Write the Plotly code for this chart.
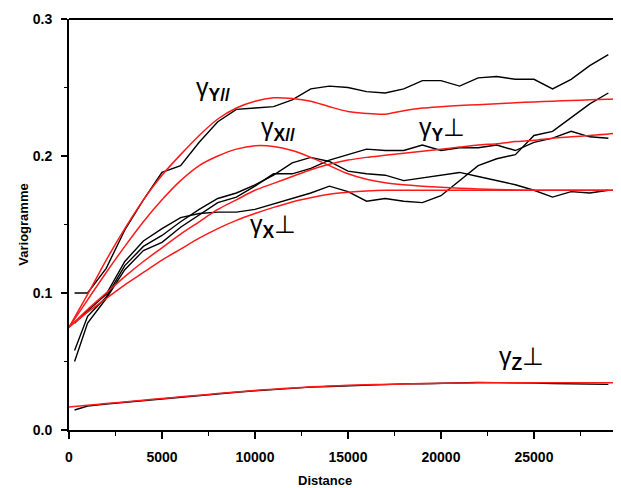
import plotly.graph_objects as go

# Experimental variogram lags (m)
lags = [300, 1000, 2000, 3000, 4000, 5000, 6000, 7000, 8000, 9000, 10000,
        11000, 12000, 13000, 14000, 15000, 16000, 17000, 18000, 19000, 20000,
        21000, 22000, 23000, 24000, 25000, 26000, 27000, 28000, 29000]

exp_y_par = [0.100, 0.100, 0.118, 0.146, 0.168, 0.188, 0.193, 0.210, 0.225, 0.234,
             0.235, 0.236, 0.241, 0.249, 0.251, 0.250, 0.247, 0.246, 0.249, 0.255,
             0.255, 0.251, 0.257, 0.258, 0.256, 0.256, 0.249, 0.256, 0.266, 0.274]
exp_x_par = [0.058, 0.083, 0.097, 0.120, 0.134, 0.142, 0.152, 0.161, 0.169, 0.173,
             0.179, 0.186, 0.195, 0.199, 0.196, 0.189, 0.187, 0.186, 0.182, 0.184,
             0.186, 0.188, 0.185, 0.182, 0.179, 0.175, 0.170, 0.174, 0.173, 0.175]
exp_y_perp = [0.050, 0.078, 0.096, 0.117, 0.131, 0.137, 0.148, 0.157, 0.166, 0.170,
              0.178, 0.187, 0.187, 0.191, 0.197, 0.201, 0.205, 0.204, 0.204, 0.208,
              0.204, 0.206, 0.206, 0.208, 0.204, 0.210, 0.213, 0.218, 0.214, 0.213]
exp_x_perp = [0.078, 0.087, 0.099, 0.123, 0.138, 0.147, 0.155, 0.158, 0.159, 0.159,
              0.161, 0.165, 0.169, 0.173, 0.178, 0.174, 0.167, 0.169, 0.167, 0.166,
              0.171, 0.182, 0.193, 0.198, 0.201, 0.215, 0.218, 0.228, 0.238, 0.246]
exp_z_perp = [0.0146, 0.0175, 0.0190, 0.0203, 0.0215, 0.0228, 0.0240, 0.0253, 0.0265, 0.0276,
              0.0287, 0.0297, 0.0305, 0.0313, 0.0318, 0.0324, 0.0330, 0.0334, 0.0337, 0.0338,
              0.0342, 0.0348, 0.0347, 0.0346, 0.0347, 0.0343, 0.0339, 0.0338, 0.0336, 0.0333]

# Fitted model curves
model_d = [0, 1000, 2000, 3000, 4000, 5000, 6000, 7000, 8000, 9000, 10000,
           11000, 12000, 13000, 14000, 15000, 16000, 17000, 18000, 19000, 20000,
           21000, 22000, 23000, 24000, 25000, 26000, 27000, 28000, 29000, 29700]

mod_y_par = [0.075, 0.099, 0.124, 0.147, 0.168, 0.186, 0.201, 0.215, 0.227, 0.235,
             0.240, 0.2425, 0.242, 0.240, 0.236, 0.2325, 0.231, 0.2305, 0.2330, 0.2350,
             0.2360, 0.2368, 0.2375, 0.2382, 0.2388, 0.2395, 0.2400, 0.2405, 0.2410, 0.2415, 0.2420]
mod_x_par = [0.075, 0.095, 0.115, 0.134, 0.152, 0.168, 0.182, 0.193, 0.200, 0.205,
             0.2075, 0.207, 0.204, 0.199, 0.193, 0.187, 0.183, 0.1805, 0.179, 0.178,
             0.1772, 0.1765, 0.176, 0.1755, 0.1752, 0.175, 0.175, 0.175, 0.175, 0.175, 0.175]
mod_y_perp = [0.075, 0.088, 0.100, 0.112, 0.123, 0.133, 0.143, 0.152, 0.161, 0.168,
              0.175, 0.180, 0.185, 0.190, 0.194, 0.197, 0.199, 0.2005, 0.202, 0.2035,
              0.205, 0.2065, 0.208, 0.209, 0.2105, 0.2115, 0.213, 0.214, 0.215, 0.216, 0.217]
mod_x_perp = [0.075, 0.086, 0.096, 0.106, 0.115, 0.124, 0.132, 0.140, 0.147, 0.153,
              0.158, 0.1625, 0.1665, 0.1695, 0.172, 0.1735, 0.1745, 0.175, 0.175, 0.175,
              0.175, 0.175, 0.175, 0.175, 0.175, 0.175, 0.175, 0.175, 0.175, 0.175, 0.175]
mod_z_perp = [0.0168, 0.0180, 0.0193, 0.0205, 0.0218, 0.0230, 0.0242, 0.0254, 0.0266, 0.0278,
              0.0288, 0.0298, 0.0307, 0.0315, 0.0321, 0.0326, 0.0330, 0.0333, 0.0336, 0.0339,
              0.0341, 0.0343, 0.0344, 0.0345, 0.0345, 0.0345, 0.0345, 0.0345, 0.0345, 0.0345, 0.0345]

x_ticks = [0, 5000, 10000, 15000, 20000, 25000]
y_ticks = [0.0, 0.1, 0.2, 0.3]

labels = ["γ<sub><b>Y//</b></sub>", "γ<sub><b>X//</b></sub>",
          "γ<sub><b>Y</b></sub>⊥", "γ<sub><b>X</b></sub>⊥", "γ<sub><b>Z</b></sub>⊥"]
label_x = [6700, 10200, 18700, 9600, 23000]
label_y = [0.249, 0.220, 0.220, 0.149, 0.0526]

FONT = "Liberation Sans, Arial, sans-serif"

fig = go.Figure()
for ys in [exp_y_par, exp_x_par, exp_y_perp, exp_x_perp, exp_z_perp]:
    fig.add_trace(go.Scatter(x=lags, y=ys, mode="lines",
                             line=dict(color="black", width=1.4),
                             showlegend=False, hoverinfo="skip"))
for ys in [mod_y_par, mod_x_par, mod_y_perp, mod_x_perp, mod_z_perp]:
    fig.add_trace(go.Scatter(x=model_d, y=ys, mode="lines",
                             line=dict(color="#ff1a1a", width=1.5, shape="spline", smoothing=0.8),
                             showlegend=False, hoverinfo="skip"))

for t, lx, ly in zip(labels, label_x, label_y):
    fig.add_annotation(x=lx, y=ly, xref="x", yref="y", text=t, showarrow=False,
                       xanchor="left", yanchor="middle",
                       font=dict(family=FONT, size=25, color="black"))

fig.add_annotation(x=-0.083, y=0.5, xref="paper", yref="paper", text="<b>Variogramme</b>",
                   textangle=-90, showarrow=False, xanchor="center", yanchor="middle",
                   font=dict(family=FONT, size=13, color="black"))
fig.add_annotation(x=0.463, y=-0.122, xref="paper", yref="paper", text="<b>Distance</b>",
                   showarrow=False, xanchor="center", yanchor="middle",
                   font=dict(family=FONT, size=13, color="black"))

# top frame line
fig.add_shape(type="line", xref="paper", yref="paper", x0=0, x1=1, y0=1, y1=1,
              line=dict(color="black", width=2))

# the page body has an 8px margin: size the figure so the plot area lands where the reference has it
fig.update_layout(
    width=613, height=480,
    margin=dict(l=61, r=0, t=11, b=58, autoexpand=False),
    paper_bgcolor="white", plot_bgcolor="white",
    font=dict(family=FONT, color="black"),
    xaxis=dict(range=[0, 29680], tickvals=x_ticks, tickformat="d", automargin=False,
               ticks="outside", ticklen=7, tickwidth=1.5, tickcolor="black",
               showline=True, linewidth=2, linecolor="black", mirror=False,
               showgrid=False, zeroline=False, ticklabelstandoff=6,
               tickfont=dict(family=FONT, size=14, color="black", weight="bold"),
               minor=dict(ticks="outside", ticklen=4, tickwidth=1, tickcolor="black",
                          tick0=0, dtick=2500, showgrid=False)),
    yaxis=dict(range=[0, 0.3], tickvals=y_ticks, tickformat=".1f", automargin=False,
               ticks="outside", ticklen=6, tickwidth=1.5, tickcolor="black",
               showline=True, linewidth=2, linecolor="black", mirror=False,
               showgrid=False, zeroline=False, ticklabelstandoff=6,
               tickfont=dict(family=FONT, size=14, color="black", weight="bold"),
               minor=dict(ticks="outside", ticklen=3, tickwidth=1, tickcolor="black",
                          tick0=0, dtick=0.05, showgrid=False)),
)

fig.write_html("out.html")
